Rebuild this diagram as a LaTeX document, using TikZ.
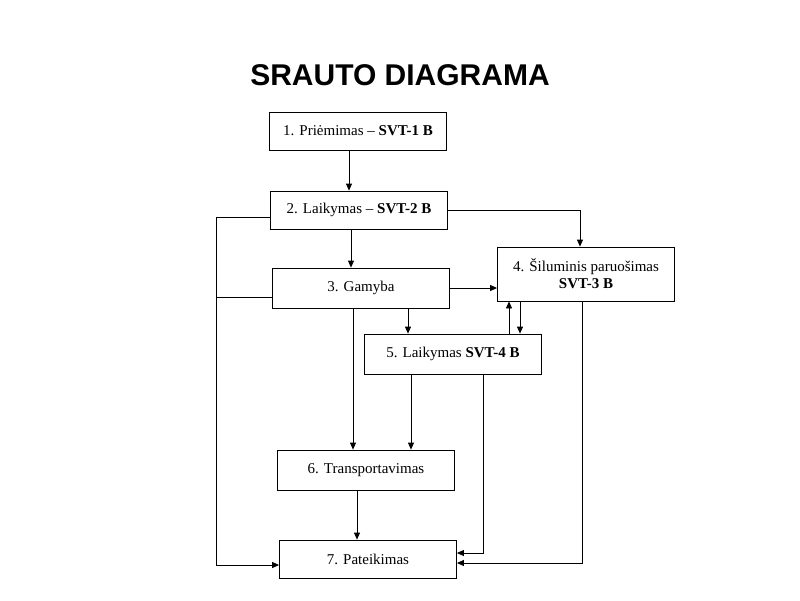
\documentclass[tikz,border=0pt]{standalone}
\usepackage{fontspec}
\setmainfont{Liberation Serif}
\newfontfamily\titlefont{Liberation Sans}
\usepackage{tikz}
\usetikzlibrary{arrows.meta, positioning}

\begin{document}
\begin{tikzpicture}[
    x=1pt, y=-1pt,
    font=\fontsize{15}{17}\selectfont,
    box/.style={draw=black, line width=0.8pt, fill=white, inner sep=3pt,
                align=center, minimum height=38pt, minimum width=177pt},
    tall/.style={box, minimum height=54pt},
    ln/.style={black, line width=0.8pt},
    ar/.style={ln, -{Triangle[length=7pt, width=6pt]}}
  ]
    \useasboundingbox (0,0) rectangle (800,600);
    \node[font=\titlefont\bfseries\fontsize{30}{34}\selectfont] (title) at (400,75) {SRAUTO DIAGRAMA};
    \node[box] (b1) at (358,131) {1. Priėmimas -- \textbf{SVT-1 B}};
    \node[box] (b2) at (359,210) {2. Laikymas -- \textbf{SVT-2 B}};
    \node[box, minimum height=40pt] (b3) at (361,288) {3. Gamyba};
    \node[tall] (b4) at (586,274) {4. Šiluminis paruošimas\\ \textbf{SVT-3 B}};
    \node[box, minimum height=40pt] (b5) at (453,354) {5. Laikymas \textbf{SVT-4 B}};
    \node[box, minimum height=40pt] (b6) at (366,470) {6. Transportavimas};
    \node[box] (b7) at (368,559) {7. Pateikimas};
    % main chain
    \draw[ar] ([xshift=-9pt]b1.south) -- ([xshift=-9pt]b1.south |- b2.north);
    \draw[ar] ([xshift=-8pt]b2.south) -- ([xshift=-8pt]b2.south |- b3.north);
    \draw[ar] (b2.east) -| ([xshift=-6pt]b4.north);
    \draw[ar] (b3.east) -- (b3.east -| b4.west);
    \draw[ar] ([xshift=47pt]b3.south) -- ([xshift=47pt]b3.south |- b5.north);
    \draw[ar] ([xshift=-8pt]b3.south) -- ([xshift=-8pt]b3.south |- b6.north);
    \draw[ar] ([xshift=56pt]b5.north) -- ([xshift=56pt]b5.north |- b4.south);
    \draw[ar] ([xshift=67pt]b5.north |- b4.south) -- ([xshift=67pt]b5.north);
    \draw[ar] ([xshift=-42pt]b5.south) -- ([xshift=-42pt]b5.south |- b6.north);
    \draw[ar] ([xshift=-9pt]b6.south) -- ([xshift=-9pt]b6.south |- b7.north);
    % bypass lines
    \draw[ar] ([yshift=-7pt]b2.west) -- ++(-54,0) |- ([yshift=-6pt]b7.west);
    \draw[ln] ([yshift=-9pt]b3.west) -- ++(-56,0);
    \draw[ar] ([xshift=30pt]b5.south) |- ([yshift=6pt]b7.east);
    \draw[ar] ([xshift=-4pt]b4.south) |- ([yshift=-4pt]b7.east);
  \end{tikzpicture}
\end{document}
